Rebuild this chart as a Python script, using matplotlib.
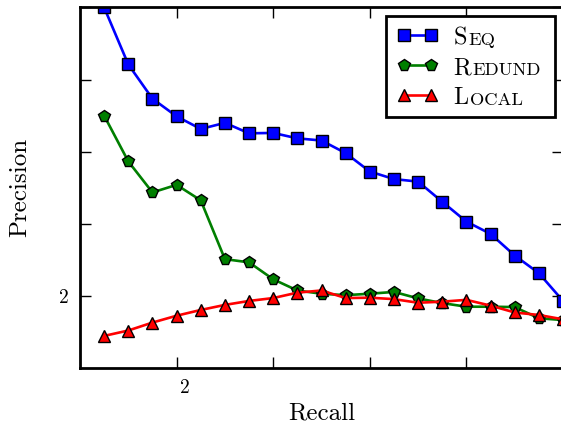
import matplotlib
matplotlib.use('Agg')
import matplotlib.pyplot as plt
import matplotlib.transforms as mtransforms

plt.rcParams['font.family'] = 'cmr10'
plt.rcParams['axes.formatter.use_mathtext'] = True
plt.rcParams['mathtext.fontset'] = 'cm'

# values
recall = [0.05, 0.10, 0.15, 0.20, 0.25, 0.30, 0.35, 0.40, 0.45, 0.50,
          0.55, 0.60, 0.65, 0.70, 0.75, 0.80, 0.85, 0.90, 0.95, 1.00]
seq = [1.000, 0.842, 0.747, 0.698, 0.663, 0.680, 0.651, 0.652, 0.637, 0.631,
       0.596, 0.545, 0.524, 0.517, 0.461, 0.406, 0.372, 0.312, 0.263, 0.186]
redund = [0.700, 0.573, 0.487, 0.508, 0.465, 0.302, 0.293, 0.246, 0.215, 0.206,
          0.202, 0.206, 0.211, 0.193, 0.180, 0.170, 0.170, 0.169, 0.138, 0.133]
local = [0.089, 0.104, 0.126, 0.145, 0.161, 0.175, 0.186, 0.194, 0.209, 0.215,
         0.194, 0.195, 0.191, 0.181, 0.184, 0.189, 0.173, 0.154, 0.147, 0.135]

tick_pos = [0.2, 0.4, 0.6, 0.8, 1.0]
tick_lbl = ['2', '', '', '', '']
# small caps labels: (big first letter, rest)
caps = [('S', 'EQ'), ('R', 'EDUND'), ('L', 'OCAL')]

fig = plt.figure(figsize=(5.61, 4.30), dpi=100)
ax = fig.add_axes([0.1426, 0.1442, 0.861, 0.8384])

l1, = ax.plot(recall, seq, '-s', color='#0000ff', lw=1.9, ms=8,
              mec='black', mew=1.0)
l2, = ax.plot(recall, redund, '-p', color='#007f00', lw=1.9, ms=8.5,
              mec='black', mew=1.0)
l3, = ax.plot(recall, local, '-^', color='#ff0000', lw=1.9, ms=9,
              mec='black', mew=1.0)

ax.set_xlim(0, 1)
ax.set_ylim(0, 1)
ax.set_xticks(tick_pos)
ax.set_xticklabels(tick_lbl)
ax.set_yticks(tick_pos)
ax.set_yticklabels(tick_lbl)
ax.tick_params(direction='in', length=8, width=1, top=True, right=True,
               labelsize=14, pad=8)
for sp in ax.spines.values():
    sp.set_linewidth(2)

# the x label "2" sits a bit right of its tick in the reference
off = mtransforms.ScaledTranslation(8 / 100, 0, fig.dpi_scale_trans)
for lab in ax.get_xticklabels():
    lab.set_transform(lab.get_transform() + off)

ax.set_xlabel('Recall', fontsize=18, labelpad=4)
ax.set_ylabel('Precision', fontsize=18, labelpad=20)

leg = ax.legend([l1, l2, l3], ['SEQ', 'REDUND', 'LOCAL'], loc='upper right',
                numpoints=2, fontsize=14.5, handlelength=1.95, handletextpad=0.8,
                handleheight=0.4, labelspacing=0.6, borderpad=0.58,
                borderaxespad=0.4, fancybox=False, edgecolor='black',
                framealpha=1)
leg.get_frame().set_linewidth(2)
for txt, (big, small) in zip(leg.get_texts(), caps):
    txt.set_alpha(0)
    a = ax.annotate(big, xy=(0, 0), xycoords=txt, fontsize=17.4,
                    va='bottom', ha='left', zorder=7,
                    xytext=(0, -3), textcoords='offset points')
    ax.annotate(small, xy=(1, 0), xycoords=a, fontsize=13.3, va='bottom',
                ha='left', xytext=(0.7, 0.8), textcoords='offset points',
                zorder=7)

fig.savefig('out.png', dpi=100)
